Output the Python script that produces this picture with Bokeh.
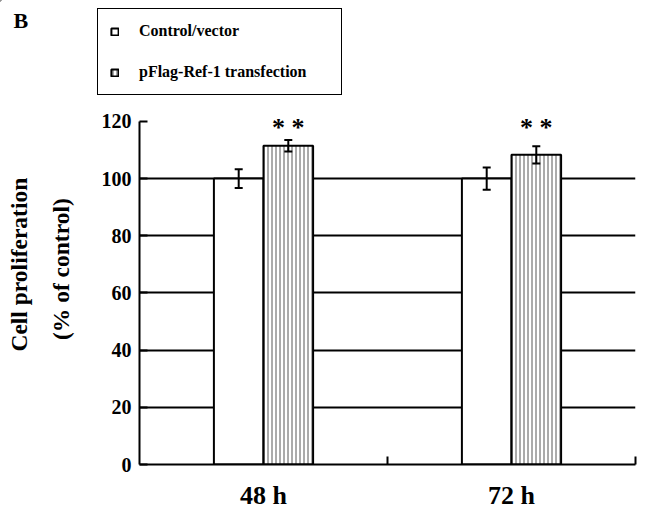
import math
from bokeh.plotting import figure
from bokeh.layouts import row, column
from bokeh.models import (ColumnDataSource, Range1d, FixedTicker, Whisker, TeeHead,
                          Legend, LegendItem)
from bokeh.core.properties import value
from bokeh.embed import file_html
from bokeh.resources import INLINE

# ---- data ----
categories = ["48 h", "72 h"]
control = [100.0, 100.0]
control_err = [3.3, 3.9]
transfection = [111.5, 108.3]
transfection_err = [2.0, 3.0]
series_names = ["Control/vector", "pFlag-Ref-1 transfection"]
sig_marks = ["* *", "* *"]
y_ticks = [0, 20, 40, 60, 80, 100, 120]
grid_ticks = [20, 40, 60, 80, 100]
y_title = ["Cell proliferation", "(% of control)"]
panel_letter = "B"

SERIF = "Liberation Serif"
BAR_W = 0.2
LEFT_W, TOP_H, BOTTOM_B = 97, 100, 45
W, H = 646, 512

ctrl_style = dict(fill_color="white", line_color="black", line_width=2)
tr_style = dict(fill_color="white", line_color="black", line_width=2,
                hatch_pattern="|", hatch_color="#555555", hatch_weight=1, hatch_scale=4)

centers = [i + 0.5 for i in range(len(categories))]
x_ctrl = [c - BAR_W / 2 for c in centers]
x_tr = [c + BAR_W / 2 for c in centers]

src_c = ColumnDataSource(dict(x=x_ctrl, top=control,
                              lo=[v - e for v, e in zip(control, control_err)],
                              hi=[v + e for v, e in zip(control, control_err)]))
src_t = ColumnDataSource(dict(x=x_tr, top=transfection,
                              lo=[v - e for v, e in zip(transfection, transfection_err)],
                              hi=[v + e for v, e in zip(transfection, transfection_err)]))


def blank(width, height, xr, yr, bottom=0):
    f = figure(width=width, height=height, output_backend="svg", toolbar_location=None,
               x_range=xr, y_range=yr, x_axis_location=None, y_axis_location=None,
               min_border=0, min_border_bottom=bottom)
    f.outline_line_color = None
    f.grid.visible = False
    return f


# ---- top strip: panel letter + legend (pixel coordinates, y downward) ----
top = blank(W, TOP_H, Range1d(0, W), Range1d(TOP_H, 0))
top.text(x=[13], y=[20], text=[panel_letter], text_align="left", text_baseline="alphabetic",
         text_font=value(SERIF), text_font_style="bold", text_font_size="22px",
         text_color="black")
lr_c = top.vbar(x=[-50], top=[-50], bottom=[-60], width=1, **ctrl_style)
lr_t = top.vbar(x=[-50], top=[-50], bottom=[-60], width=1, **tr_style)
legend = Legend(items=[LegendItem(label=series_names[0], renderers=[lr_c]),
                       LegendItem(label=series_names[1], renderers=[lr_t])],
                location=(97, 5), margin=0)
legend.label_text_font = SERIF
legend.label_text_font_style = "bold"
legend.label_text_font_size = "16px"
legend.label_text_color = "black"
legend.glyph_width = 9
legend.glyph_height = 9
legend.label_standoff = 20
legend.padding = 12
legend.spacing = 21
legend.label_height = 20
legend.label_width = 190
legend.border_line_color = "black"
legend.border_line_alpha = 1
legend.border_line_width = 1.5
legend.background_fill_alpha = 1
top.add_layout(legend, "center")

# ---- left strip: y title (pixel coordinates, y downward; frame matches main frame) ----
left = blank(LEFT_W, H - TOP_H, Range1d(0, LEFT_W), Range1d(H - BOTTOM_B, TOP_H),
             bottom=BOTTOM_B)
left.text(x=[18, 60], y=[265.5, 270], text=y_title, angle=math.pi / 2,
          text_align="center", text_baseline="middle",
          text_font=value(SERIF), text_font_style="bold", text_font_size="23.5px",
          text_color="black")

# ---- main chart ----
p = figure(width=W - LEFT_W, height=H - TOP_H, output_backend="svg", toolbar_location=None,
           x_range=Range1d(0, len(categories)), y_range=Range1d(0, 127.3),
           min_border_left=42, min_border_right=11, min_border_top=0,
           min_border_bottom=BOTTOM_B)
p.outline_line_color = None
p.background_fill_color = "white"

p.xgrid.visible = False
p.ygrid.ticker = FixedTicker(ticks=grid_ticks)
p.ygrid.grid_line_color = "black"
p.ygrid.grid_line_width = 2

ya = p.yaxis[0]
ya.ticker = FixedTicker(ticks=y_ticks)
ya.bounds = (0, 120)
ya.axis_line_width = 2
ya.axis_line_color = "black"
ya.major_tick_in = 8
ya.major_tick_out = 0
ya.major_tick_line_width = 2
ya.minor_tick_line_color = None
ya.major_label_text_font = SERIF
ya.major_label_text_font_style = "bold"
ya.major_label_text_font_size = "20px"
ya.major_label_text_color = "black"
ya.major_label_standoff = 8

xa = p.xaxis[0]
xa.ticker = FixedTicker(ticks=centers, minor_ticks=[i + 1 for i in range(len(categories))])
xa.major_label_overrides = {c: lab for c, lab in zip(centers, categories)}
xa.axis_line_width = 2
xa.axis_line_color = "black"
xa.major_tick_line_color = None
xa.minor_tick_in = 8
xa.minor_tick_out = 0
xa.minor_tick_line_width = 2
xa.minor_tick_line_color = "black"
xa.major_label_text_font = SERIF
xa.major_label_text_font_style = "bold"
xa.major_label_text_font_size = "26px"
xa.major_label_text_color = "black"
xa.major_label_standoff = 10

p.vbar(x="x", top="top", width=BAR_W, bottom=0, source=src_c, **ctrl_style)
p.vbar(x="x", top="top", width=BAR_W, bottom=0, source=src_t, **tr_style)

for src in (src_c, src_t):
    p.add_layout(Whisker(base="x", upper="hi", lower="lo", source=src, level="overlay",
                         line_color="black", line_width=2,
                         upper_head=TeeHead(size=8, line_width=2, line_color="black"),
                         lower_head=TeeHead(size=8, line_width=2, line_color="black")))

p.text(x=x_tr, y=[118, 118], text=sig_marks, text_align="center", text_baseline="middle",
       text_font=value(SERIF), text_font_style="bold", text_font_size="26px",
       text_color="black")

layout = column(top, row(left, p, spacing=0), spacing=0)
open("out.html", "w").write(file_html(layout, INLINE))
